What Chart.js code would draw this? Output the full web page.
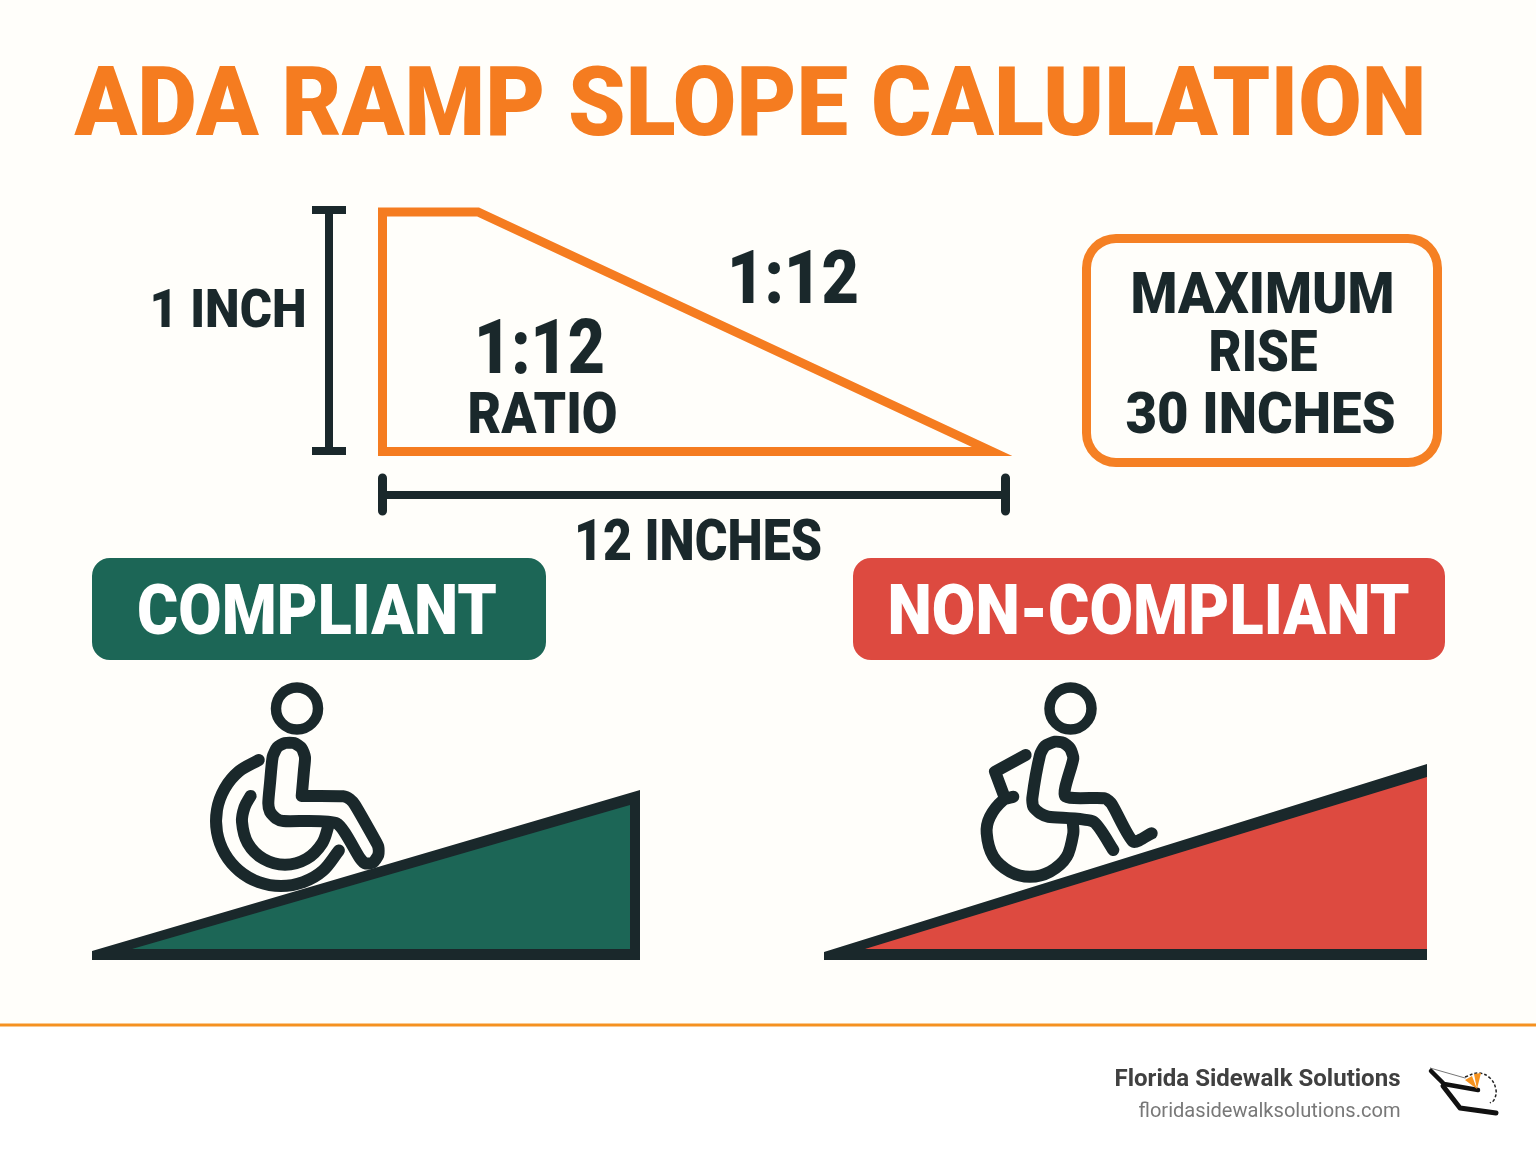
<!DOCTYPE html>
<html>
<head>
<meta charset="utf-8">
<title>ADA Ramp Slope Calulation</title>
<script src="https://cdn.jsdelivr.net/npm/chart.js@4"></script>
<style>
  html, body { margin: 0; padding: 0; background: #fffefa; }
  canvas { display: block; }
</style>
</head>
<body>
<canvas id="rampChart" width="1536" height="1154"></canvas>
<script>
// Everything is plotted on a 1536 x 1154 value grid, y running downwards.
const footerArea = [[0, 1026], [1536, 1026], [1536, 1154], [0, 1154], [0, 1026]];
const footerRule = [[0, 1025], [1536, 1025]];

const slopeOutline = [[382.5, 212], [478, 212], [992, 451.5], [382.5, 451.5], [382.5, 212]];
const riseBar = [[329, 210], [329, 451]];
const riseCapTop = [[312, 210], [346, 210]];
const riseCapBottom = [[312, 451], [346, 451]];
const runBar = [[382, 495], [1005, 495]];
const runCapLeft = [[382.5, 478], [382.5, 511]];
const runCapRight = [[1005.5, 478], [1005.5, 511]];

const maxRiseBox = [[1116, 268], [1408, 268], [1408, 433], [1116, 433], [1116, 268]];

const greenBadge = [[110, 576], [528, 576], [528, 642], [110, 642], [110, 576]];
const redBadge = [[871, 576], [1427, 576], [1427, 642], [871, 642], [871, 576]];

const greenRampOuter = [[92, 951], [640, 790], [640, 960], [92, 960], [92, 951]];
const greenRampInner = [[132, 949], [630, 805], [630, 949], [132, 949]];
const redRampOuter = [[824, 952], [1427, 764], [1427, 960], [824, 960], [824, 952]];
const redRampInner = [[865, 949], [1427, 777], [1427, 949], [865, 949]];

const greenHead = [[297, 708.5]];
const greenBody = [
  [301.7, 796], [304, 770], [305, 757.3], [301.7, 748.3], [294, 743], [285, 743], [277.3, 747.3],
  [272.7, 756.7], [270, 783.3], [268.3, 803.3], [270, 811.7], [276, 818.3], [283.3, 821], [336.7, 823.3],
  [360, 858.3], [365, 863.3], [372.7, 862.7], [378.3, 855], [378.3, 846.7], [375, 840], [355, 805],
  [350, 799.3], [343.3, 796.3], [301.7, 796]
];
const greenWheelOuter = [
  [258.8, 760], [239.2, 771.2], [224.7, 788.5], [217, 809.7], [217, 832.3], [224.7, 853.5], [239.2, 870.8],
  [258.8, 882.1], [281, 886], [303.2, 882.1], [322.8, 870.8], [338.9, 850.5]
];
const greenWheelInner = [
  [250.6, 795.9], [244.6, 807], [242, 821.7], [247.8, 843.2], [263.5, 858.9], [285, 864.7],
  [306.5, 858.9], [322.2, 843.2], [329, 824]
];

const redHead = [[1070.5, 708.5]];
const redBody = [
  [1151.7, 833.3], [1133.3, 841.7], [1111.7, 804], [1105, 798.3], [1065, 796], [1073.3, 758.3], [1070, 748.3],
  [1063.3, 742.7], [1055, 741.7], [1045, 746], [1040, 755], [1032.3, 798.3], [1033.3, 806.7], [1040, 813.3],
  [1048.3, 816.7], [1093.3, 821.7], [1113.3, 850]
];
const redWheel = [
  [1013.3, 796.7], [1003.3, 800], [990, 816.7], [986.7, 833.3], [993.3, 856.7], [1010, 871.7], [1030, 876.7],
  [1050, 871.7], [1066.7, 856.7], [1073.3, 833.3], [1072.7, 822]
];
const redHandle = [[1025.7, 755], [995, 771.7], [1005, 798.3]];

const logoTopEdge = [[1430, 1068], [1465, 1078]];
const logoUpper = [[1431, 1071], [1444, 1084], [1478, 1090]];
const logoLower = [[1443, 1086], [1460, 1108], [1496, 1113]];
const logoDial = [[1465, 1077], [1478, 1073], [1490, 1078], [1496, 1090], [1494, 1100], [1490, 1103]];
const logoWedgeLeft = [[1477, 1089], [1465, 1080], [1472, 1076], [1477, 1089]];
const logoWedgeRight = [[1477, 1089], [1474, 1074], [1481, 1073], [1477, 1089]];

const labelTexts = ['ADA RAMP SLOPE CALULATION', '1 INCH', '1:12', '1:12', 'RATIO', '12 INCHES', 'MAXIMUM', 'RISE',
  '30 INCHES', 'COMPLIANT', 'NON-COMPLIANT', 'Florida Sidewalk Solutions', 'floridasidewalksolutions.com'];
const labelX = [750.5, 228, 793, 539.5, 542.5, 698, 1262.5, 1263, 1260.5, 317, 1148.5, 1257.5, 1269.5];
const labelY = [135, 327, 303, 373, 433, 560, 313, 371, 433, 634, 634, 1086, 1117];
const labelWidths = [1352, 157, 132, 131, 150, 248, 264, 109, 270, 360, 522, 286, 262];
const labelSizes = [97, 53, 75, 76, 57, 58, 57, 57, 58, 70, 70, 24, 20];

const paper = '#fffefa';
const ink = '#1a282b';
const orange = '#f57c20';
const green = '#1c6656';
const red = '#dd4a40';
const labelColors = [orange, ink, ink, ink, ink, ink, ink, ink, ink, '#ffffff', '#ffffff', '#404040', '#787878'];
const labelWeights = [900, 900, 900, 900, 900, 900, 900, 900, 900, 900, 900, 700, 400];

function toPoints(list) {
  return list.map(function (p) { return { x: p[0], y: p[1] }; });
}

function stroke(list, color, width, extra) {
  return Object.assign({
    data: toPoints(list),
    showLine: true,
    fill: false,
    borderColor: color,
    borderWidth: width,
    borderCapStyle: 'round',
    borderJoinStyle: 'round',
    pointRadius: 0
  }, extra || {});
}

function solid(list, color, edge) {
  return stroke(list, edge ? color : 'transparent', edge || 0, {
    fill: 'shape',
    backgroundColor: color
  });
}

function ring(list, radius, width) {
  return {
    data: toPoints(list),
    showLine: false,
    pointStyle: 'circle',
    pointRadius: radius,
    pointBorderWidth: width,
    pointBorderColor: ink,
    pointBackgroundColor: 'transparent'
  };
}

// Painted back to front; reversed below because Chart.js draws the first dataset last.
const layers = [
  solid(footerArea, '#ffffff'),
  stroke(footerRule, '#f59120', 3, { borderCapStyle: 'butt' }),
  stroke(slopeOutline, orange, 9, { borderJoinStyle: 'miter', borderCapStyle: 'square' }),
  stroke(riseBar, ink, 8, { borderCapStyle: 'butt' }),
  stroke(riseCapTop, ink, 8, { borderCapStyle: 'butt' }),
  stroke(riseCapBottom, ink, 8, { borderCapStyle: 'butt' }),
  stroke(runBar, ink, 8, { borderCapStyle: 'butt' }),
  stroke(runCapLeft, ink, 9, { borderCapStyle: 'butt' }),
  stroke(runCapRight, ink, 9, { borderCapStyle: 'butt' }),
  solid(maxRiseBox, '#f58024', 68),
  solid(maxRiseBox, paper, 50),
  solid(greenBadge, green, 36),
  solid(redBadge, red, 36),
  solid(greenRampOuter, ink),
  solid(greenRampInner, green),
  solid(redRampOuter, ink),
  solid(redRampInner, red),
  ring(greenHead, 21, 10.5),
  stroke(greenBody, ink, 12, { tension: 0.2 }),
  stroke(greenWheelOuter, ink, 12, { tension: 0.35 }),
  stroke(greenWheelInner, ink, 12, { tension: 0.35 }),
  ring(redHead, 21, 10.5),
  stroke(redBody, ink, 12, { tension: 0.2 }),
  stroke(redWheel, ink, 12, { tension: 0.3 }),
  stroke(redHandle, ink, 12),
  stroke(logoTopEdge, '#777777', 1),
  stroke(logoUpper, '#111111', 4.5),
  stroke(logoLower, '#111111', 5),
  stroke(logoDial, '#222222', 1.5, { tension: 0.4, borderDash: [3, 2], borderCapStyle: 'butt' }),
  solid(logoWedgeLeft, '#f7931e'),
  solid(logoWedgeRight, '#f7931e')
].reverse();

// Draws the labels at value positions and squeezes each to its measured width.
const labelPlugin = {
  id: 'infographicLabels',
  afterDatasetsDraw(chart) {
    const ctx = chart.ctx;
    const xScale = chart.scales.x;
    const yScale = chart.scales.y;
    labelTexts.forEach(function (text, i) {
      ctx.save();
      ctx.font = labelWeights[i] + ' ' + labelSizes[i] + 'px Roboto';
      ctx.fillStyle = labelColors[i];
      ctx.textAlign = 'center';
      ctx.textBaseline = 'alphabetic';
      const natural = ctx.measureText(text).width;
      ctx.translate(xScale.getPixelForValue(labelX[i]), yScale.getPixelForValue(labelY[i]));
      ctx.scale(labelWidths[i] / natural, 1);
      ctx.fillText(text, 0, 0);
      ctx.restore();
    });
  }
};

new Chart(document.getElementById('rampChart'), {
  type: 'scatter',
  data: { datasets: layers },
  options: {
    responsive: false,
    animation: false,
    layout: { padding: 0, autoPadding: false },
    plugins: {
      legend: { display: false },
      tooltip: { enabled: false }
    },
    scales: {
      x: { type: 'linear', display: false, min: 0, max: 1536 },
      y: { type: 'linear', display: false, min: 0, max: 1154, reverse: true }
    }
  },
  plugins: [labelPlugin]
});
</script>
</body>
</html>
